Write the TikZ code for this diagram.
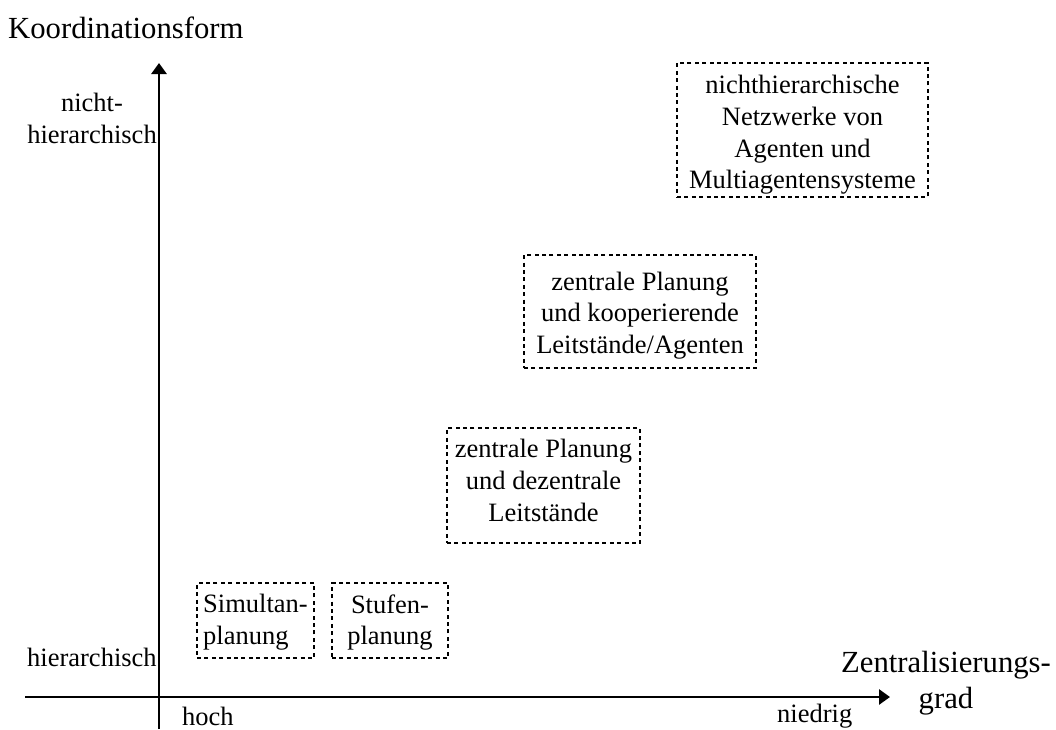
\documentclass[tikz,border=0pt]{standalone}
\usepackage{fontspec}
\setmainfont{Liberation Serif}
\usetikzlibrary{arrows.meta}
\begin{document}
\begin{tikzpicture}[x=1pt,y=-1pt,
  axis/.style={line width=2.9pt,-{Triangle[width=15pt,length=11pt]}},
  lbl/.style={inner sep=0pt,font=\fontsize{26.5}{31.7}\selectfont},
  title/.style={inner sep=0pt,font=\fontsize{30.7}{36}\selectfont},
  methodbox/.style={draw,line width=2.7pt,dash pattern=on 4pt off 3.4pt,inner sep=0pt},
  methodtext/.style={lbl,align=center},
]
\useasboundingbox (0,0) rectangle (1056,729);

% axes
\coordinate (ybot) at (159,729);
\coordinate (ytop) at (159,63);
\coordinate (xleft) at (25,697);
\coordinate (xright) at (890,697);
\draw[axis] (ybot) -- (ytop);
\draw[axis] (xleft) -- (xright);

% axis titles
\node[title,anchor=base west] (ytitle) at (8,38) {Koordinationsform};
\node[title,align=center,anchor=base] (xtitle) at (946,708) {Zentralisierungs-\\grad};

% axis scale labels
\node[lbl,align=center] (ymax) at (92,118.5) {nicht-\\hierarchisch};
\node[lbl,anchor=base west] (ymin) at (27,666) {hierarchisch};
\node[lbl,anchor=base west] (xmin) at (182,725) {hoch};
\node[lbl,anchor=base west] (xmax) at (777,722) {niedrig};

% coordination forms: dotted frames
\node[methodbox,minimum width=117pt,minimum height=75pt] (simultanbox) at (255.5,620.5) {};
\node[methodbox,minimum width=116pt,minimum height=75pt] (stufenbox) at (390,620.5) {};
\node[methodbox,minimum width=193pt,minimum height=115pt] (dezentralbox) at (543.5,485.5) {};
\node[methodbox,minimum width=232pt,minimum height=113pt] (kooperierendbox) at (640,311.5) {};
\node[methodbox,minimum width=251pt,minimum height=134pt] (netzwerkebox) at (802.5,130) {};

% coordination forms: texts
\node[methodtext,align=left,yshift=-2pt] (simultan) at (simultanbox.center) {Simultan-\\planung};
\node[methodtext,yshift=-2pt] (stufen) at (stufenbox.center) {Stufen-\\planung};
\node[methodtext,yshift=5pt] (dezentral) at (dezentralbox.center) {zentrale Planung\\und dezentrale\\Leitstände};
\node[methodtext,yshift=-4pt] (kooperierend) at (kooperierendbox.center) {zentrale Planung\\und kooperierende\\Leitstände/Agenten};
\node[methodtext,yshift=-5pt] (netzwerke) at (netzwerkebox.center) {nichthierarchische\\Netzwerke von\\Agenten und\\Multiagentensysteme};
\end{tikzpicture}
\end{document}
